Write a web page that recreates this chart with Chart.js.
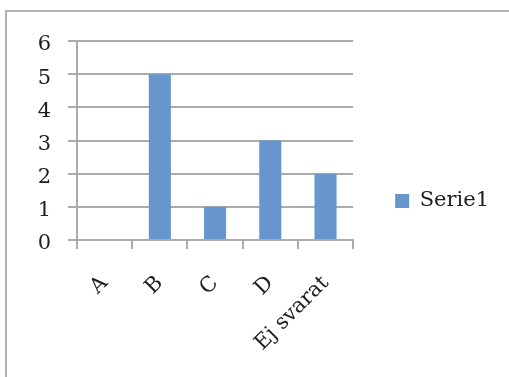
<!DOCTYPE html>
<html lang="sv">
<head>
    <meta charset="UTF-8">
    <title>Serie1</title>
    <script src="https://cdn.jsdelivr.net/npm/chart.js@4.4.1/dist/chart.umd.min.js"></script>
    <style>
        html, body {
            margin: 0;
            padding: 0;
            background: #fff;
        }
        .wrap {
            position: relative;
            width: 509px;
            height: 377px;
            overflow: hidden;
        }
        .frame {
            position: absolute;
            left: 5px;
            top: 10px;
            right: -10px;
            bottom: -10px;
            border-top: 2px solid #b3b3b3;
            border-left: 2px solid #b3b3b3;
        }
        #chart {
            position: absolute;
            left: 0;
            top: 0;
        }
    </style>
</head>
<body>
<div class="wrap">
    <div class="frame"></div>
    <canvas id="chart" width="509" height="377"></canvas>
</div>

<script>
    // data
    const categories = ['A', 'B', 'C', 'D', 'Ej svarat'];
    const serie1 = [0, 5, 1, 3, 2];
    const seriesName = 'Serie1';
    const yMin = 0;
    const yMax = 6;
    const yStep = 1;

    const barColor = '#6696cd';
    const gridColor = '#ababab';
    const textColor = '#1e1e1e';
    const fontFamily = '"DejaVu Serif", "Liberation Serif", serif';

    new Chart(document.getElementById('chart'), {
        type: 'bar',
        data: {
            labels: categories,
            datasets: [{
                label: seriesName,
                data: serie1,
                backgroundColor: barColor,
                borderWidth: 0,
                barPercentage: 0.4,
                categoryPercentage: 1.0
            }]
        },
        options: {
            responsive: false,
            animation: false,
            layout: {
                padding: { top: 41, left: 0, right: 10, bottom: 16 }
            },
            plugins: {
                tooltip: { enabled: false },
                legend: {
                    position: 'right',
                    maxWidth: 300,
                    labels: {
                        boxWidth: 14,
                        boxHeight: 14,
                        padding: 42,
                        color: textColor,
                        font: { family: fontFamily, size: 21 }
                    }
                }
            },
            scales: {
                x: {
                    offset: true,
                    grid: {
                        offset: true,
                        drawOnChartArea: false,
                        drawTicks: true,
                        tickLength: 9,
                        color: gridColor,
                        lineWidth: 2
                    },
                    border: { color: gridColor, width: 2 },
                    ticks: {
                        autoSkip: false,
                        minRotation: 45,
                        maxRotation: 45,
                        padding: 22,
                        color: textColor,
                        font: { family: fontFamily, size: 21 }
                    },
                    afterFit(scale) {
                        scale.height = 121;
                    }
                },
                y: {
                    min: yMin,
                    max: yMax,
                    grid: {
                        drawTicks: true,
                        tickLength: 9,
                        color: gridColor,
                        lineWidth: 2
                    },
                    border: { color: gridColor, width: 2 },
                    ticks: {
                        stepSize: yStep,
                        padding: 17,
                        labelOffset: 4,
                        color: textColor,
                        font: { family: fontFamily, size: 21 }
                    },
                    afterFit(scale) {
                        scale.width = 77;
                    }
                }
            }
        }
    });
</script>
</body>
</html>
